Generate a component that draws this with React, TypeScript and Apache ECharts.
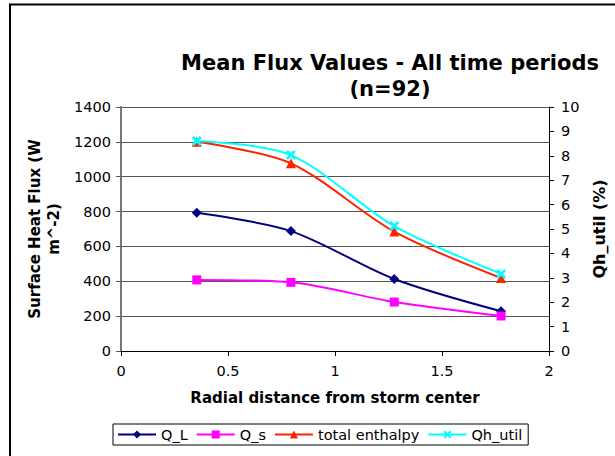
import React, { useEffect, useRef } from "react";
import * as echarts from "echarts";

const xDist = [0.354, 0.794, 1.277, 1.776];
const qL = [793, 688, 413, 228];
const qS = [408, 394, 281, 201];
const totalEnthalpy = [1200, 1077, 685, 419];
const qhUtil = [8.61, 8.03, 5.12, 3.16];
const seriesNames = ["Q_L", "Q_s", "total enthalpy", "Qh_util"];

const FONT = "DejaVu Sans";
const X_SYMBOL = "path://M0,2L2,0L5,3L8,0L10,2L7,5L10,8L8,10L5,7L2,10L0,8L3,5Z";

function pairs(ys: number[]) {
  return xDist.map((x, i) => [x, ys[i]]);
}

export default function App() {
  const ref = useRef<HTMLDivElement>(null);
  useEffect(() => {
    if (!ref.current) return;
    const chart = echarts.init(ref.current, null, { renderer: "svg" });
    chart.setOption({
      animation: false,
      backgroundColor: "#ffffff",
      textStyle: { fontFamily: FONT },
      title: {
        text: "Mean Flux Values - All time periods\n(n=92)",
        left: 385,
        top: 45,
        textAlign: "center",
        textStyle: { fontFamily: FONT, fontSize: 21, fontWeight: "bold", color: "#000", lineHeight: 26 },
      },
      graphic: [
        {
          type: "rect",
          shape: { x: 10, y: 4.5, width: 640, height: 500 },
          style: { fill: "none", stroke: "#000", lineWidth: 2 },
          silent: true,
        },
      ],
      grid: { left: 121, right: 66, top: 107, bottom: 105 },
      legend: {
        data: seriesNames,
        left: 113,
        top: 424,
        itemWidth: 38,
        itemHeight: 10,
        itemGap: 8,
        padding: [3, 6, 3, 4],
        borderColor: "#000",
        borderWidth: 1,
        borderRadius: 0,
        textStyle: { fontFamily: FONT, fontSize: 14.5, color: "#000" },
      },
      xAxis: {
        type: "value",
        min: 0,
        max: 2,
        interval: 0.5,
        name: "Radial distance from storm center",
        nameLocation: "middle",
        nameGap: 39,
        nameTextStyle: { fontFamily: FONT, fontSize: 15, fontWeight: "bold", color: "#000" },
        axisLine: { show: true, onZero: false, lineStyle: { color: "#000", width: 1 } },
        axisTick: { show: true, inside: false, length: 5, lineStyle: { color: "#000" } },
        axisLabel: { fontFamily: FONT, fontSize: 14.5, color: "#000", margin: 12 },
        splitLine: { show: false },
      },
      yAxis: [
        {
          type: "value",
          min: 0,
          max: 1400,
          interval: 200,
          name: "Surface Heat Flux (W\nm^-2)",
          nameLocation: "middle",
          nameRotate: 90,
          nameGap: 53,
          nameTextStyle: { fontFamily: FONT, fontSize: 15, fontWeight: "bold", color: "#000", lineHeight: 19 },
          axisLine: { show: true, lineStyle: { color: "#777", width: 2 } },
          axisTick: { show: true, length: 5, lineStyle: { color: "#555" } },
          axisLabel: { fontFamily: FONT, fontSize: 14.5, color: "#000", margin: 10, formatter: (v: number) => String(v) },
          splitLine: { show: true, lineStyle: { color: "#555", width: 1 } },
        },
        {
          type: "value",
          min: 0,
          max: 10,
          interval: 1,
          name: "Qh_util (%)",
          nameLocation: "middle",
          nameRotate: 90,
          nameGap: 42,
          nameTextStyle: { fontFamily: FONT, fontSize: 16, fontWeight: "bold", color: "#000" },
          axisLine: { show: true, lineStyle: { color: "#000", width: 1 } },
          axisTick: { show: true, length: 5, lineStyle: { color: "#000" } },
          axisLabel: { fontFamily: FONT, fontSize: 14.5, color: "#000", margin: 12 },
          splitLine: { show: false },
        },
      ],
      series: [
        {
          name: "Q_L",
          type: "line",
          smooth: 0.3,
          data: pairs(qL),
          yAxisIndex: 0,
          symbol: "diamond",
          symbolSize: 10,
          lineStyle: { color: "#000080", width: 2 },
          itemStyle: { color: "#000080" },
        },
        {
          name: "Q_s",
          type: "line",
          smooth: 0.3,
          data: pairs(qS),
          yAxisIndex: 0,
          symbol: "rect",
          symbolSize: 9,
          lineStyle: { color: "#FF00FF", width: 2 },
          itemStyle: { color: "#FF00FF" },
        },
        {
          name: "total enthalpy",
          type: "line",
          smooth: 0.3,
          data: pairs(totalEnthalpy),
          yAxisIndex: 0,
          symbol: "triangle",
          symbolSize: 10,
          lineStyle: { color: "#FF2200", width: 2 },
          itemStyle: { color: "#FF2200" },
        },
        {
          name: "Qh_util",
          type: "line",
          smooth: 0.3,
          data: pairs(qhUtil),
          yAxisIndex: 1,
          symbol: X_SYMBOL,
          symbolSize: 10,
          lineStyle: { color: "#00FFFF", width: 2 },
          itemStyle: { color: "#00FFFF" },
        },
      ],
    });
    return () => chart.dispose();
  }, []);
  return (
    <div
      ref={ref}
      style={{ position: "fixed", left: 0, top: 0, width: 615, height: 456, background: "#fff" }}
    />
  );
}
